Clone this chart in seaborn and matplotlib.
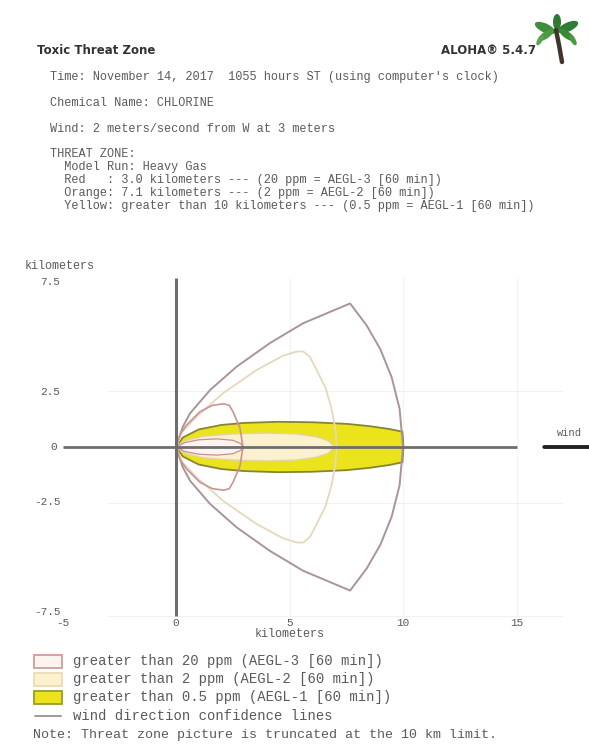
"""
Toxic Threat Zone (ALOHA) - recreacion con seaborn / matplotlib.
"""

import matplotlib
matplotlib.use('Agg')
import matplotlib.pyplot as plt
import seaborn as sns
import pandas as pd
from matplotlib.patches import Rectangle, Ellipse

# ---------------- textos ----------------
title_left = 'Toxic Threat Zone'
title_right = 'ALOHA\u00ae 5.4.7'
header_lines = [
    "Time: November 14, 2017  1055 hours ST (using computer's clock)",
    "Chemical Name: CHLORINE",
    "Wind: 2 meters/second from W at 3 meters",
    "THREAT ZONE:",
    "  Model Run: Heavy Gas",
    "  Red   : 3.0 kilometers --- (20 ppm = AEGL-3 [60 min])",
    "  Orange: 7.1 kilometers --- (2 ppm = AEGL-2 [60 min])",
    "  Yellow: greater than 10 kilometers --- (0.5 ppm = AEGL-1 [60 min])",
]
legend_labels = [
    'greater than 20 ppm (AEGL-3 [60 min])',
    'greater than 2 ppm (AEGL-2 [60 min])',
    'greater than 0.5 ppm (AEGL-1 [60 min])',
    'wind direction confidence lines',
]
note_text = 'Note: Threat zone picture is truncated at the 10 km limit.'

# ---------------- ejes ----------------
x_ticks = [-5, 0, 5, 10, 15]
x_tick_labels = ['-5', '0', '5', '10', '15']
y_ticks = [7.5, 2.5, 0, -2.5, -7.5]
y_tick_labels = ['7.5', '2.5', '0', '-2.5', '-7.5']

# ---------------- contornos (mitad superior, km) ----------------
# lineas de confianza - zona amarilla (truncada en 10 km)
conf_yellow_x = [0, 0.3, 0.62, 1.5, 2.67, 4.14, 5.6, 7.67, 8.4, 9.0, 9.5, 9.85, 10.0]
conf_yellow_y = [0, 0.9, 1.5, 2.53, 3.57, 4.62, 5.5, 6.38, 5.4, 4.35, 3.1, 1.7, 0]
# lineas de confianza - zona naranja
conf_orange_x = [0, 0.3, 0.91, 2.08, 3.55, 4.7, 5.3, 5.6, 5.9, 6.2, 6.6, 6.85, 7.02, 7.08]
conf_orange_y = [0, 0.7, 1.35, 2.4, 3.42, 4.05, 4.24, 4.25, 4.0, 3.42, 2.6, 1.7, 0.8, 0]
# lineas de confianza - zona roja
conf_red_x = [0, 0.2, 0.47, 1.06, 1.6, 2.1, 2.35, 2.51, 2.82, 2.95]
conf_red_y = [0, 0.6, 0.98, 1.57, 1.85, 1.92, 1.85, 1.57, 0.84, 0]

# huellas (footprints)
zone_yellow_x = [0, 0.3, 1.0, 2.0, 3.0, 4.5, 6.0, 7.5, 8.5, 9.4, 9.97, 10.0, 10.02]
zone_yellow_y = [0, 0.42, 0.78, 0.98, 1.07, 1.12, 1.1, 1.03, 0.93, 0.8, 0.68, 0.35, 0]
zone_orange_x = [0, 0.4, 1.2, 2.5, 4.0, 5.3, 6.2, 6.7, 7.0]
zone_orange_y = [0, 0.28, 0.48, 0.58, 0.62, 0.58, 0.45, 0.28, 0]
zone_red_x = [0, 0.4, 1.0, 1.8, 2.5, 2.85, 2.95]
zone_red_y = [0, 0.2, 0.32, 0.36, 0.3, 0.15, 0]

# colores
c_red_fill, c_red_edge = '#fdf4f2', '#c98f8f'
c_orange_fill, c_orange_edge = '#fbf1cf', '#e2d2aa'
c_yellow_fill, c_yellow_edge = '#ebe31c', '#858532'
c_conf_outer = '#a99595'
c_axis = '#6e6e6e'
c_text = '#5a5a5a'
mono = 'Liberation Mono'


def closed(xs, ys):
    """Cierra el contorno reflejando la mitad superior."""
    x = list(xs) + list(xs[::-1])
    y = list(ys) + [-v for v in ys[::-1]]
    return pd.DataFrame({'x': x, 'y': y, 'o': range(len(x))})


sns.set_theme(style='white')
plt.rcParams['font.family'] = ['DejaVu Sans']

W, H = 589, 746
fig = plt.figure(figsize=(W / 100, H / 100), dpi=100)
fig.patch.set_facecolor('white')

# escala: 0 km en px (176, 447); 22.7 px/km en x, 22.5 px/km en y
ax_l, ax_r, ax_t, ax_b = 20, 589, 255, 640
ax = fig.add_axes([ax_l / W, (H - ax_b) / H, (ax_r - ax_l) / W, (ax_b - ax_t) / H])
ax.set_xlim((ax_l - 176) / 22.7, (ax_r - 176) / 22.7)
ax.set_ylim((447 - ax_b) / 22.5, (447 - ax_t) / 22.5)
ax.axis('off')

# rejilla muy tenue
for yv in [2.5, -2.5, -7.5]:
    ax.plot([-3, 17], [yv, yv], color='#f1f1f1', lw=0.8, zorder=0)
for xv in [5, 10, 15]:
    ax.plot([xv, xv], [-7.5, 7.5], color='#f3f3f3', lw=0.8, zorder=0)

# huellas rellenas
for xs, ys, fc, ec, lw, z in [
    (zone_yellow_x, zone_yellow_y, c_yellow_fill, c_yellow_edge, 1.3, 2),
    (zone_orange_x, zone_orange_y, c_orange_fill, c_orange_edge, 1.0, 3),
    (zone_red_x, zone_red_y, c_red_fill, c_red_edge, 0.9, 4),
]:
    d = closed(xs, ys)
    ax.fill(d['x'], d['y'], facecolor=fc, edgecolor=ec, lw=lw, zorder=z)

# lineas de confianza
for xs, ys, col, lw in [
    (conf_yellow_x, conf_yellow_y, c_conf_outer, 1.4),
    (conf_orange_x, conf_orange_y, '#e6d8bd', 1.3),
    (conf_red_x, conf_red_y, '#c99494', 1.2),
]:
    d = closed(xs, ys)
    sns.lineplot(data=d, x='x', y='y', sort=False, estimator=None,
                 color=col, lw=lw, ax=ax, legend=False, zorder=5)

# ejes centrales
ax.plot([min(x_ticks), max(x_ticks)], [0, 0], color=c_axis, lw=2.0, zorder=6,
        solid_capstyle='butt')
ax.plot([0, 0], [min(y_ticks), max(y_ticks)], color=c_axis, lw=2.2, zorder=6,
        solid_capstyle='butt')

# etiquetas de ticks
for xv, lab in zip(x_ticks, x_tick_labels):
    ax.text(xv, -7.8, lab, ha='center', va='center', fontsize=8,
            family=mono, color=c_text)
for yv, lab in zip(y_ticks, y_tick_labels):
    if yv == 0:
        ax.text(-5.4, 0, lab, ha='center', va='center', fontsize=8,
                family=mono, color=c_text)
    else:
        ax.text(-5.1, yv * 0.98, lab, ha='right', va='center', fontsize=8,
                family=mono, color=c_text)
ax.text(-6.65, 8.05, 'kilometers', ha='left', va='center', fontsize=8.5,
        family=mono, color=c_text)
ax.text(5, -8.3, 'kilometers', ha='center', va='center', fontsize=8.5,
        family=mono, color=c_text)

# flecha del viento (la punta queda cortada por el borde)
ax.annotate('', xy=(19.0, 0), xytext=(16.1, 0),
            arrowprops=dict(arrowstyle='-|>', color='#222222', lw=2.8,
                            mutation_scale=14), annotation_clip=False)
ax.text(17.35, 0.6, 'wind', ha='center', va='center', fontsize=7.5,
        family=mono, color=c_text)

# ---------------- capa en pixeles para cabecera y leyenda ----------------
ov = fig.add_axes([0, 0, 1, 1], facecolor='none')
ov.set_xlim(0, W)
ov.set_ylim(H, 0)
ov.axis('off')

ov.text(37, 50, title_left, ha='left', va='center', fontsize=8.5,
        fontweight='bold', color='#333333')
ov.text(536, 50, title_right, ha='right', va='center', fontsize=8.5,
        fontweight='bold', color='#333333')

header_y = [77, 103, 129, 154, 167, 180, 193, 206]
for yy, line in zip(header_y, header_lines):
    ov.text(50, yy, line, ha='left', va='center', fontsize=8.6,
            family=mono, color=c_text)

# palmera
ov.plot([562, 559, 556], [62, 45, 30], color='#3f352c', lw=3.2,
        solid_capstyle='round')
for cx, cy, w, h, ang, col in [
    (545, 28, 22, 9, 25, '#3f8f3a'), (568, 27, 22, 9, -25, '#2f7d32'),
    (546, 35, 18, 7, -35, '#4a9a3f'), (567, 35, 18, 7, 35, '#3a8a36'),
    (557, 22, 16, 8, 90, '#2e7a30'), (540, 40, 12, 5, -60, '#5aa64a'),
    (573, 40, 12, 5, 60, '#4a9a3f'),
]:
    ov.add_patch(Ellipse((cx, cy), w, h, angle=ang, color=col, lw=0))

# leyenda
leg_y = [661, 679, 697]
leg_fc = [c_red_fill, c_orange_fill, c_yellow_fill]
leg_ec = ['#d49a9a', '#ecdcb4', '#9a9a30']
for yy, fc, ec, lab in zip(leg_y, leg_fc, leg_ec, legend_labels[:3]):
    ov.add_patch(Rectangle((34, yy - 6.5), 28, 13, facecolor=fc,
                           edgecolor=ec, lw=1.3))
    ov.text(73, yy, lab, ha='left', va='center', fontsize=10.0,
            family=mono, color=c_text)
ov.plot([35, 61], [716, 716], color=c_conf_outer, lw=1.4)
ov.text(73, 716, legend_labels[3], ha='left', va='center', fontsize=10.0,
        family=mono, color=c_text)
ov.text(33, 735, note_text, ha='left', va='center', fontsize=9.6,
        family=mono, color=c_text)

fig.savefig('out.png', dpi=100)
